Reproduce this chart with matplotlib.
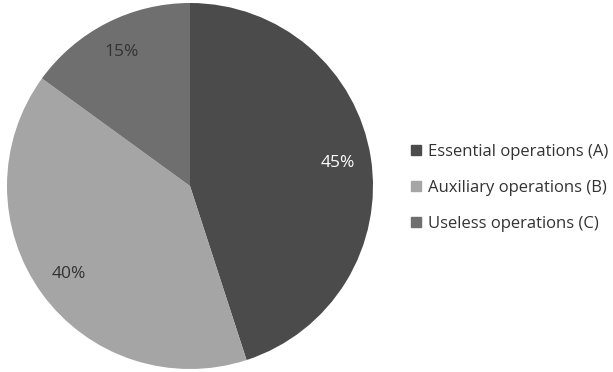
import matplotlib
matplotlib.use("Agg")
import matplotlib.pyplot as plt
from matplotlib.patches import Patch

# Slice data
labels = ['Essential operations (A)', 'Auxiliary operations (B)', 'Useless operations (C)']
shares = [45, 40, 15]
colors = ['#4b4b4b', '#a5a5a5', '#6f6f6f']
text_colors = ['white', '#333333', '#333333']

plt.rcParams['font.family'] = ['Open Sans', 'DejaVu Sans']

fig = plt.figure(figsize=(6.13, 3.72), dpi=100)
W, H = 613, 372

# Pie axes: circle roughly centred at (190, 186) with radius ~183 px
cx, cy, r = 190, 186, 183
ax = fig.add_axes([(cx - r) / W, (H - cy - r) / H, 2 * r / W, 2 * r / H])
wedges, texts, autotexts = ax.pie(shares, colors=colors, startangle=90, counterclock=False,
                                  autopct='%d%%', pctdistance=0.82,
                                  wedgeprops=dict(linewidth=0),
                                  textprops=dict(fontsize=12.5))
for t, c in zip(autotexts, text_colors):
    t.set_color(c)
ax.set_aspect('equal')
ax.set_xlim(-1, 1)
ax.set_ylim(-1, 1)

# Legend on the right
handles = [Patch(facecolor=c, edgecolor=c) for c in colors]
leg = fig.legend(handles, labels, loc='center left', bbox_to_anchor=(396 / W, 1 - 188 / H),
                 frameon=False, fontsize=12, handlelength=0.6, handleheight=0.6,
                 handletextpad=0.45, labelspacing=1.2, labelcolor='#333333')

fig.savefig('out.png', dpi=100)
